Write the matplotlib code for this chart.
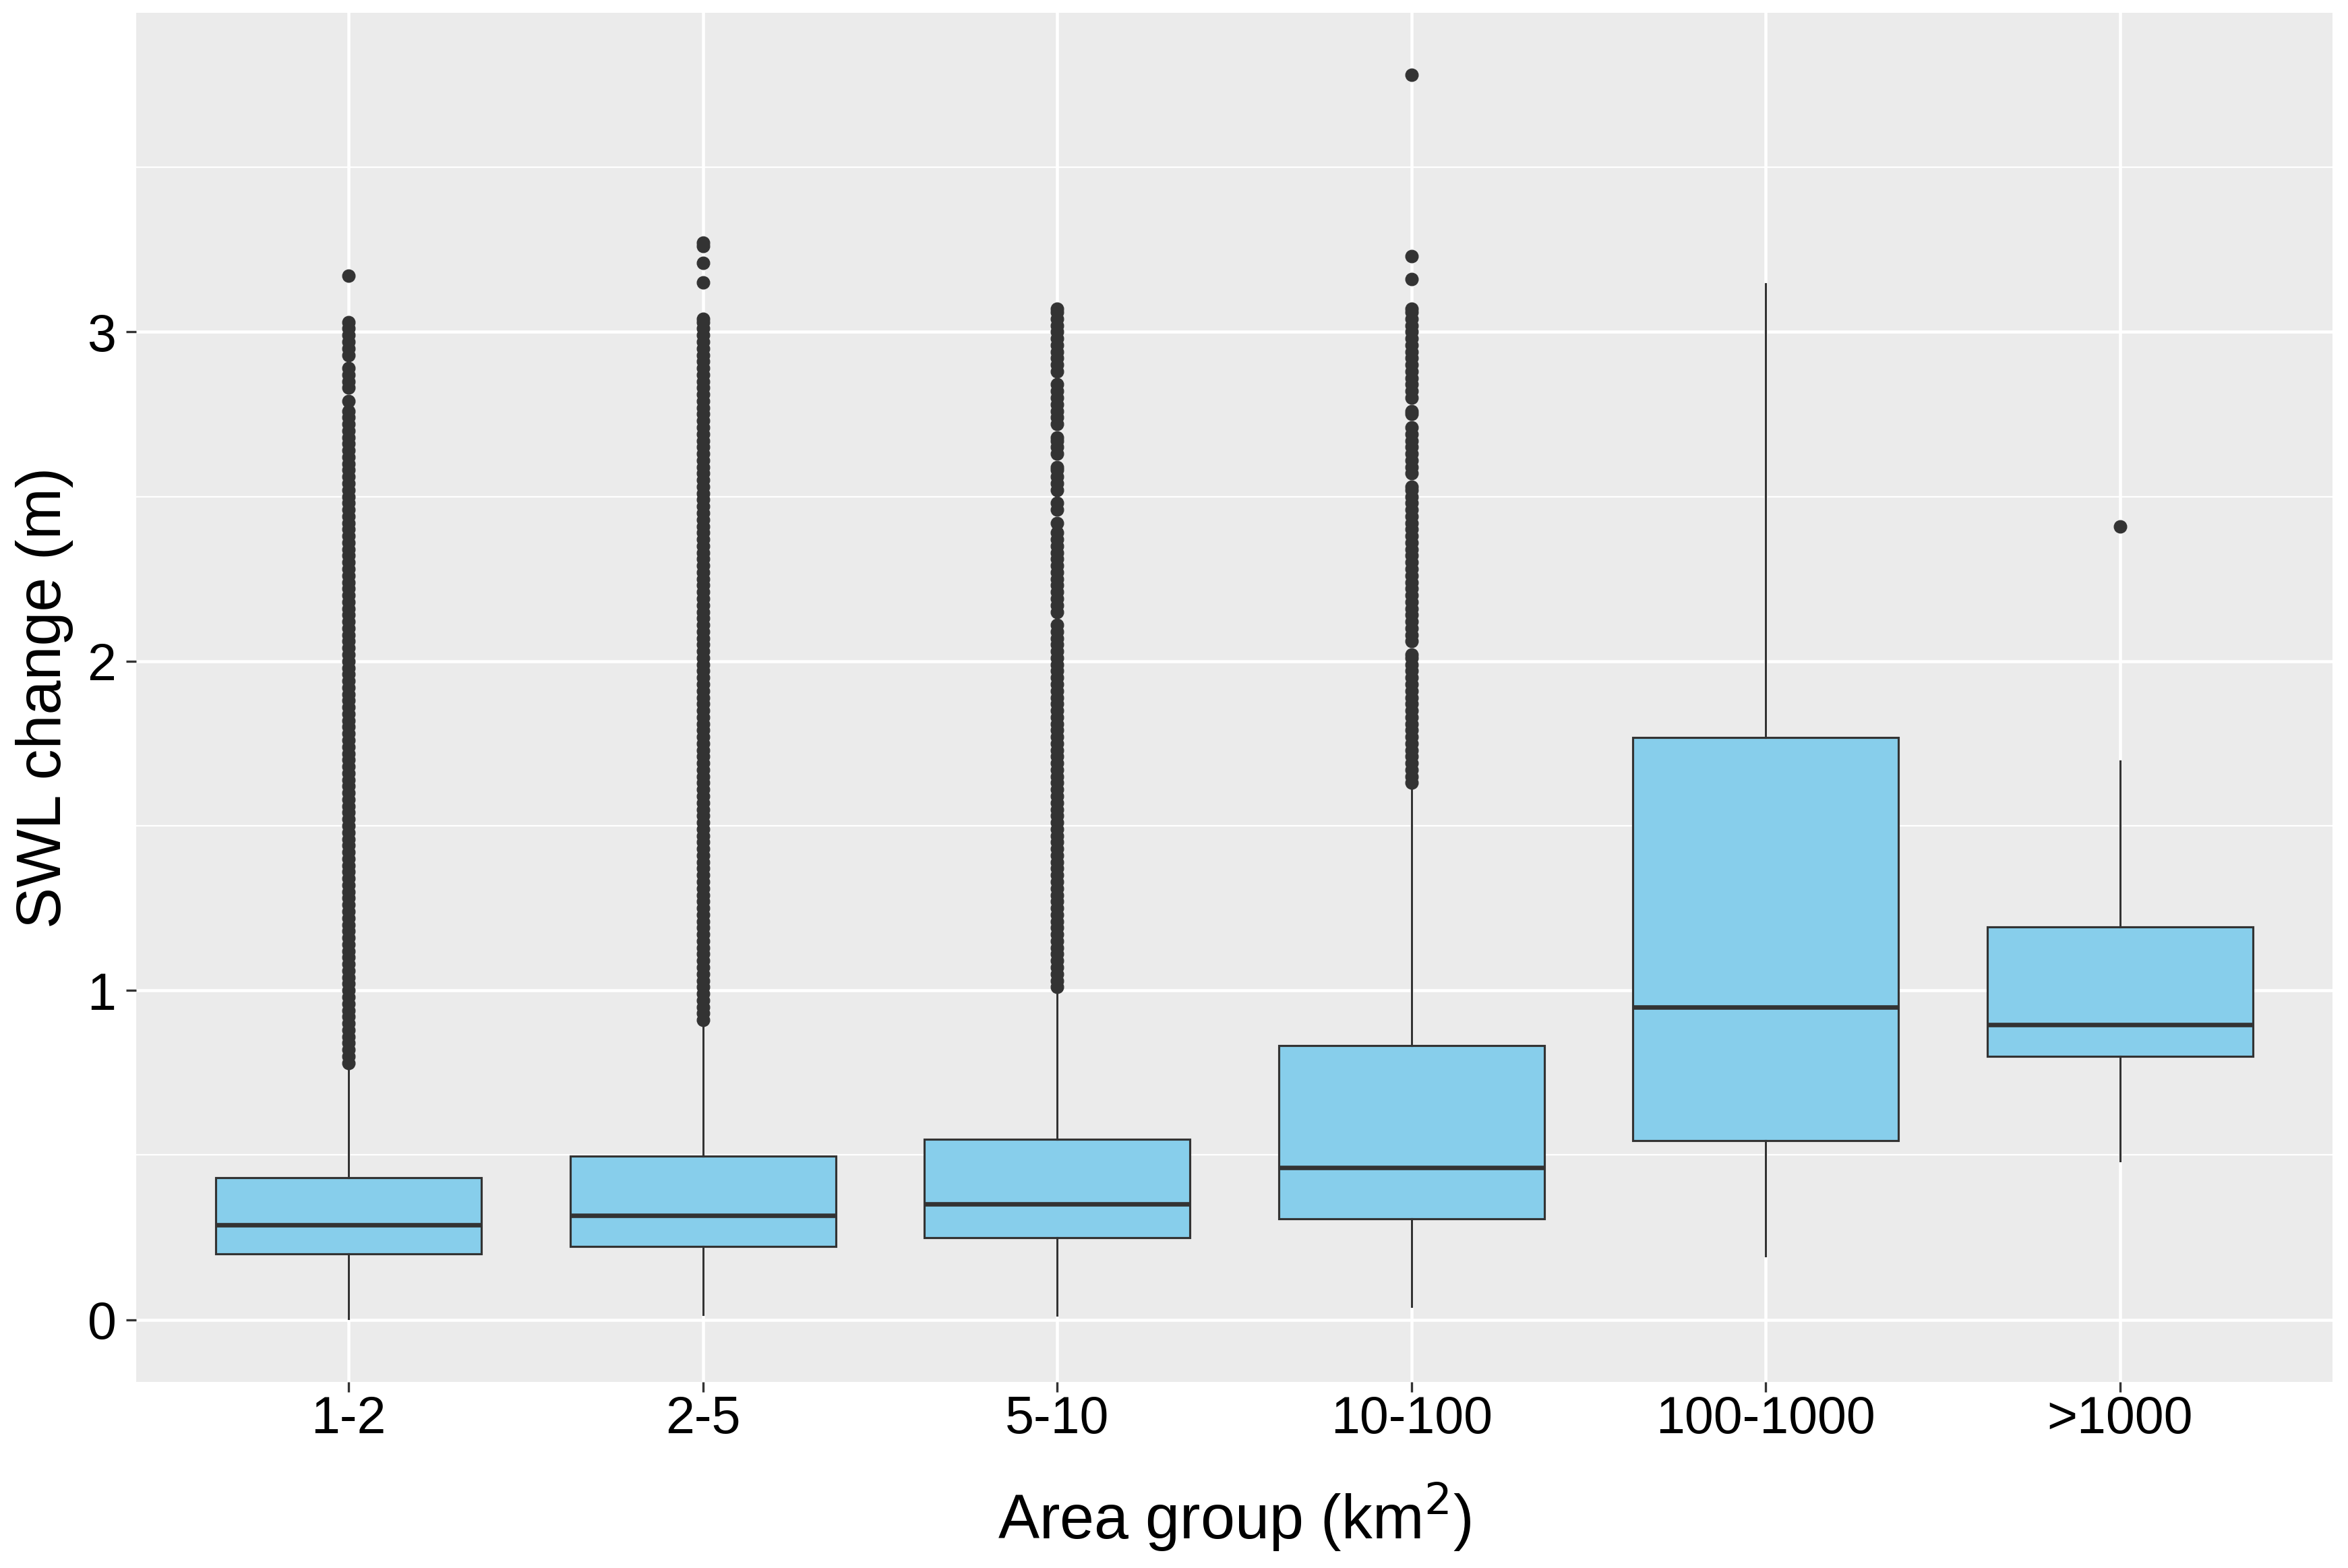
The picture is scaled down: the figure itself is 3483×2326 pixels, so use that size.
import matplotlib
matplotlib.use("Agg")
import matplotlib.pyplot as plt

plt.rcParams['font.family'] = ['Liberation Sans', 'DejaVu Sans']

categories = ["1-2", "2-5", "5-10", "10-100", "100-1000", ">1000"]
q1 = [0.200, 0.222, 0.249, 0.307, 0.544, 0.800]
medians = [0.287, 0.316, 0.351, 0.462, 0.949, 0.896]
q3 = [0.432, 0.496, 0.549, 0.833, 1.769, 1.193]
whisker_low = [0.003, 0.016, 0.013, 0.040, 0.193, 0.482]
whisker_high = [0.77, 0.90, 1.00, 1.62, 3.147, 1.696]

outliers_1_2 = [
    0.78, 0.80, 0.82, 0.84, 0.86, 0.88, 0.90, 0.92, 0.94, 0.96, 0.98,
    1.00, 1.02, 1.04, 1.06, 1.08, 1.10, 1.12, 1.14, 1.16, 1.18,
    1.20, 1.22, 1.24, 1.26, 1.28, 1.30, 1.32, 1.34, 1.36, 1.38,
    1.40, 1.42, 1.44, 1.46, 1.48, 1.50, 1.52, 1.54, 1.56, 1.58,
    1.60, 1.62, 1.64, 1.66, 1.68, 1.70, 1.72, 1.74, 1.76, 1.78,
    1.80, 1.82, 1.84, 1.86, 1.88, 1.90, 1.92, 1.94, 1.96, 1.98,
    2.00, 2.02, 2.04, 2.06, 2.08, 2.10, 2.12, 2.14, 2.16, 2.18,
    2.20, 2.22, 2.24, 2.26, 2.28, 2.30, 2.32, 2.34, 2.36, 2.38,
    2.40, 2.42, 2.44, 2.46, 2.48, 2.50, 2.52, 2.54, 2.56, 2.58,
    2.60, 2.62, 2.64, 2.66, 2.68, 2.70, 2.72, 2.74, 2.76, 2.79,
    2.83, 2.85, 2.87, 2.89,
    2.93, 2.95, 2.97, 2.99, 3.01, 3.03,
    3.17,
]
outliers_2_5 = [
    0.91, 0.93, 0.95, 0.97, 0.99,
    1.01, 1.03, 1.05, 1.07, 1.09, 1.11, 1.13, 1.15, 1.17, 1.19,
    1.21, 1.23, 1.25, 1.27, 1.29, 1.31, 1.33, 1.35, 1.37, 1.39,
    1.41, 1.43, 1.45, 1.47, 1.49, 1.51, 1.53, 1.55, 1.57, 1.59,
    1.61, 1.63, 1.65, 1.67, 1.69, 1.71, 1.73, 1.75, 1.77, 1.79,
    1.81, 1.83, 1.85, 1.87, 1.89, 1.91, 1.93, 1.95, 1.97, 1.99,
    2.01, 2.03, 2.05, 2.07, 2.09, 2.11, 2.13, 2.15, 2.17, 2.19,
    2.21, 2.23, 2.25, 2.27, 2.29, 2.31, 2.33, 2.35, 2.37, 2.39,
    2.41, 2.43, 2.45, 2.47, 2.49, 2.51, 2.53, 2.55, 2.57, 2.59,
    2.61, 2.63, 2.65, 2.67, 2.69, 2.71, 2.73, 2.75, 2.77, 2.79,
    2.81, 2.83, 2.85, 2.87, 2.89, 2.91, 2.93, 2.95, 2.97, 2.99,
    3.01, 3.03, 3.04,
    3.15, 3.21, 3.26, 3.27,
]
outliers_5_10 = [
    1.01, 1.03, 1.05, 1.07, 1.09, 1.11, 1.13, 1.15, 1.17, 1.19,
    1.21, 1.23, 1.25, 1.27, 1.29, 1.31, 1.33, 1.35, 1.37, 1.39,
    1.41, 1.43, 1.45, 1.47, 1.49, 1.51, 1.53, 1.55, 1.57, 1.59,
    1.61, 1.63, 1.65, 1.67, 1.69, 1.71, 1.73, 1.75, 1.77, 1.79,
    1.81, 1.83, 1.85, 1.87, 1.89, 1.91, 1.93, 1.95, 1.97, 1.99,
    2.01, 2.03, 2.05, 2.07, 2.09, 2.11,
    2.15, 2.17, 2.19, 2.21, 2.23, 2.25, 2.27, 2.29, 2.31, 2.33,
    2.35, 2.37, 2.39, 2.42,
    2.46, 2.48,
    2.52, 2.54, 2.56, 2.58, 2.59,
    2.63, 2.65, 2.67, 2.68,
    2.72, 2.74, 2.76, 2.78, 2.80, 2.82, 2.84,
    2.88, 2.90, 2.92, 2.94, 2.96, 2.98, 3.00, 3.02, 3.04, 3.06, 3.07,
]
outliers_10_100 = [
    1.63, 1.65, 1.67, 1.69, 1.71, 1.73, 1.75, 1.77, 1.79,
    1.81, 1.83, 1.85, 1.87, 1.89, 1.91, 1.93, 1.95, 1.97, 1.99,
    2.01, 2.02,
    2.06, 2.08, 2.10, 2.12, 2.14, 2.16, 2.18, 2.20, 2.22, 2.24,
    2.26, 2.28, 2.30, 2.32, 2.34, 2.36, 2.38, 2.40, 2.42, 2.44,
    2.46, 2.48, 2.50, 2.52, 2.53,
    2.57, 2.59, 2.61, 2.63, 2.65, 2.67, 2.69, 2.71,
    2.75, 2.76,
    2.80, 2.82, 2.84, 2.86, 2.88, 2.90, 2.92, 2.94, 2.96, 2.98,
    3.00, 3.02, 3.04, 3.06, 3.07,
    3.16, 3.23, 3.78,
]
outliers_100_1000 = []
outliers_gt_1000 = [2.41]

outliers = [outliers_1_2, outliers_2_5, outliers_5_10, outliers_10_100,
            outliers_100_1000, outliers_gt_1000]

W, H, DPI = 3483, 2326, 300
fig = plt.figure(figsize=(W / DPI, H / DPI), dpi=DPI)
fig.patch.set_facecolor("white")

left, right = 202 / W, 3460 / W
top, bottom = 19 / H, 2050 / H
ax = fig.add_axes([left, 1 - bottom, right - left, bottom - top])
ax.set_facecolor("#EBEBEB")

stats = []
for i in range(len(categories)):
    stats.append(dict(med=medians[i], q1=q1[i], q3=q3[i],
                      whislo=whisker_low[i], whishi=whisker_high[i],
                      fliers=outliers[i], label=categories[i]))

positions = list(range(1, len(categories) + 1))
edge = "#333333"
ax.bxp(stats, positions=positions, widths=0.75, patch_artist=True,
       showcaps=False,
       boxprops=dict(facecolor="#87CEEB", edgecolor=edge, linewidth=0.75),
       medianprops=dict(color=edge, linewidth=1.6, solid_capstyle="butt"),
       whiskerprops=dict(color=edge, linewidth=0.75),
       flierprops=dict(marker="o", markersize=4.5, markerfacecolor=edge,
                       markeredgecolor=edge, markeredgewidth=0.3,
                       linestyle="none"),
       zorder=3)

ax.set_xlim(0.4, 6.6)
ax.set_ylim(-0.189, 3.969)

ax.set_yticks([0, 1, 2, 3])
ax.set_yticklabels(["0", "1", "2", "3"])
ax.set_yticks([0.5, 1.5, 2.5, 3.5], minor=True)
ax.set_xticks(positions)
ax.set_xticklabels(categories)

ax.grid(which="major", color="white", linewidth=1.1, zorder=0)
ax.grid(which="minor", axis="y", color="white", linewidth=0.55, zorder=0)
ax.set_axisbelow(True)

for s in ax.spines.values():
    s.set_visible(False)

ax.tick_params(axis="both", which="major", length=3.6, width=0.8,
               color=edge, labelsize=18.5, labelcolor="black", pad=3.5)
ax.tick_params(axis="x", which="major", pad=1.0)
ax.tick_params(axis="both", which="minor", length=0)

ax.set_xlabel("Area group (km$^2$)", fontsize=22, color="black", labelpad=13)
ax.set_ylabel("SWL change (m)", fontsize=22, color="black", labelpad=5)

fig.savefig("out.png", dpi=DPI, facecolor="white")
